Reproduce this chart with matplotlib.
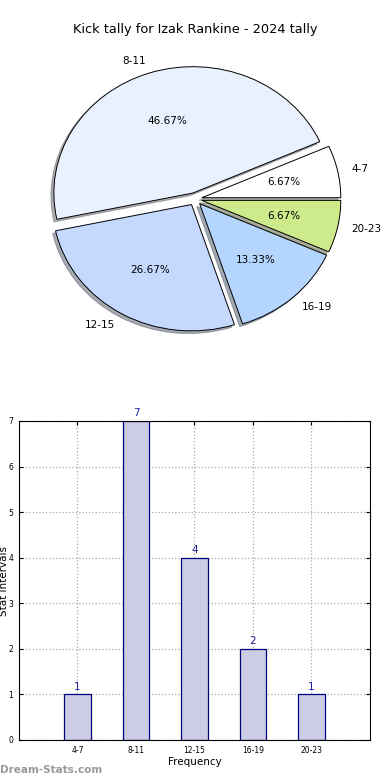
import numpy as np
from matplotlib import pyplot as plt

# data
categories = ["4-7", "8-11", "12-15", "16-19", "20-23"]
counts = [1, 7, 4, 2, 1]
pie_colors = ["#ffffff", "#eaf1fe", "#c5d8fe", "#b3d5fe", "#cdeb8b"]
yticks = [0, 1, 2, 3, 4, 5, 6, 7]

fig = plt.figure(figsize=(3.9, 7.8), dpi=100)

# pie chart (top)
ax1 = fig.add_axes([0.0545, 0.5423, 0.891, 0.405])
wedges, texts, autotexts = ax1.pie(counts, labels=categories, colors=pie_colors,
                                   explode=[0.05] * len(counts),
                                   shadow={"ox": -0.015, "oy": -0.015, "shade": 0.6},
                                   autopct="%.2f%%", startangle=0,
                                   wedgeprops={"edgecolor": "black", "linewidth": 0.7},
                                   textprops={"fontsize": 7.5})
ax1.set_aspect("auto")
ax1.set_xlim(-1.25, 1.25)
ax1.set_ylim(-1.25, 1.25)
fig.text(0.5, 1 - 30 / 780, "Kick tally for Izak Rankine - 2024 tally",
         ha="center", va="center", fontsize=9.3)

# bar chart (bottom)
ax2 = fig.add_axes([0.0487, 0.0513, 0.9, 0.409])
x = np.arange(len(categories))
ax2.bar(x, counts, width=0.45, color="#cccce4", edgecolor="navy",
        linewidth=0.9, zorder=2)
for xi, v in zip(x, counts):
    ax2.text(xi, v + 0.06, str(v), ha="center", va="bottom", fontsize=7.5,
             color="#1f1f9a")
ax2.set_xlim(-1, 5)
ax2.set_ylim(0, 7)
ax2.set_xticks(x)
ax2.set_xticklabels(categories)
ax2.set_yticks(yticks)
ax2.tick_params(labelsize=5.5, direction="in", top=True, right=True, length=3, pad=4)
ax2.grid(True, linestyle=":", color="#aaaaaa", linewidth=0.9, zorder=0)
ax2.set_axisbelow(True)
ax2.set_xlabel("Frequency", fontsize=7.5, labelpad=2)
# y label sits partly off the left edge, as in the original
fig.text(0.009, 1 - 581 / 780, "Stat Intervals", rotation=90, ha="center",
         va="center", fontsize=7.5)
fig.text(0.0, 1 - 770 / 780, "Dream-Stats.com", ha="left", va="center",
         fontsize=7.5, color="#999999", fontweight="bold")

plt.savefig("out.png", dpi=100)
